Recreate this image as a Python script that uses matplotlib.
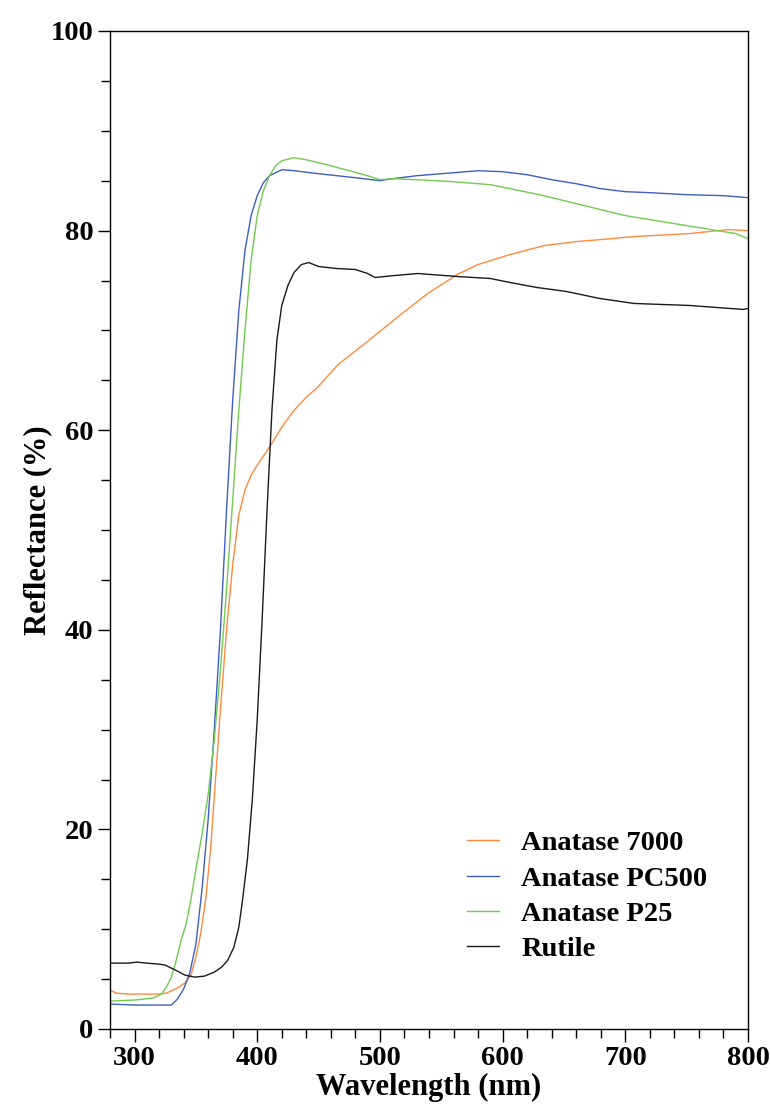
import matplotlib
matplotlib.use("Agg")
import matplotlib.pyplot as plt
from matplotlib.ticker import MultipleLocator

# diffuse reflectance spectra of the TiO2 powders
wl_7000 = [280, 285, 295, 320, 326, 335, 341, 346, 350, 354, 358, 362, 366, 370, 375,
           380, 385, 390, 395, 400, 410, 420, 430, 440, 450, 466, 490, 515, 539, 563,
           580, 606, 634, 660, 680, 707, 752, 784, 800]
r_7000 = [3.9, 3.6, 3.5, 3.5, 3.6, 4.1, 4.6, 5.4, 7.2, 9.6, 13.0, 18.0, 25.0, 32.0, 40.0,
          46.5, 51.5, 54.0, 55.5, 56.5, 58.3, 60.3, 62.0, 63.3, 64.4, 66.6, 68.9, 71.4, 73.7, 75.6,
          76.6, 77.6, 78.5, 78.9, 79.1, 79.4, 79.7, 80.1, 80.0]

wl_pc500 = [280, 300, 330, 335, 340, 345, 350, 355, 360, 365, 370, 375, 380, 385, 390,
            395, 400, 405, 410, 420, 430, 450, 480, 500, 510, 530, 560, 580, 600, 620,
            640, 660, 680, 700, 720, 750, 780, 800]
r_pc500 = [2.5, 2.4, 2.4, 3.0, 4.0, 5.6, 8.5, 14.0, 21.0, 30.0, 40.0, 52.0, 63.0, 72.0, 78.0,
           81.5, 83.5, 84.8, 85.5, 86.1, 86.0, 85.7, 85.3, 85.0, 85.2, 85.5, 85.8, 86.0, 85.9, 85.6,
           85.1, 84.7, 84.2, 83.9, 83.8, 83.6, 83.5, 83.3]

wl_p25 = [280, 300, 315, 322, 326, 330, 334, 338, 342, 346, 350, 355, 360, 365, 370,
          375, 380, 385, 390, 395, 400, 405, 410, 415, 420, 430, 440, 450, 460, 475,
          490, 500, 510, 530, 560, 590, 610, 630, 650, 670, 700, 730, 760, 780, 790, 800]
r_p25 = [2.8, 2.9, 3.1, 3.5, 4.2, 5.2, 6.9, 8.9, 10.5, 13.0, 16.0, 19.5, 23.5, 29.0, 36.0,
         44.0, 53.0, 62.0, 70.0, 77.0, 81.5, 84.0, 85.5, 86.5, 87.0, 87.3, 87.1, 86.8, 86.5, 86.0,
         85.5, 85.1, 85.2, 85.1, 84.9, 84.6, 84.1, 83.6, 83.0, 82.4, 81.5, 80.9, 80.3, 79.9, 79.7, 79.2]

wl_rutile = [280, 295, 302, 310, 320, 325, 330, 335, 341, 349, 357, 365, 371, 376, 381,
             385, 388, 392, 396, 400, 404, 408, 412, 416, 420, 425, 430, 436, 442, 450,
             465, 480, 490, 496, 512, 531, 563, 590, 606, 628, 652, 679, 707, 752, 796, 800]
r_rutile = [6.6, 6.6, 6.7, 6.6, 6.5, 6.4, 6.1, 5.8, 5.4, 5.2, 5.3, 5.7, 6.2, 6.9, 8.2,
            10.2, 12.9, 17.0, 23.0, 31.0, 41.0, 52.0, 62.0, 69.0, 72.5, 74.5, 75.8, 76.6, 76.8, 76.4,
            76.2, 76.1, 75.7, 75.3, 75.5, 75.7, 75.4, 75.2, 74.8, 74.3, 73.9, 73.2, 72.7, 72.5, 72.1, 72.2]

series = [
    ("Anatase 7000", wl_7000, r_7000, "#ff8a3d"),
    ("Anatase PC500", wl_pc500, r_pc500, "#3d5fc4"),
    ("Anatase P25", wl_p25, r_p25, "#6fcc4e"),
    ("Rutile", wl_rutile, r_rutile, "#1a1a1a"),
]

plt.rcParams["font.family"] = "Liberation Serif"
plt.rcParams["font.weight"] = "bold"

fig = plt.figure(figsize=(7.71, 11.05), dpi=100)
ax = fig.add_axes([110 / 771, 76 / 1105, 638 / 771, 998 / 1105])

for name, x, y, c in series:
    ax.plot(x, y, color=c, lw=1.0, label=name)

ax.set_xlim(280, 800)
ax.set_ylim(0, 100)
ax.xaxis.set_major_locator(MultipleLocator(100))
ax.xaxis.set_minor_locator(MultipleLocator(20))
ax.yaxis.set_major_locator(MultipleLocator(20))
ax.yaxis.set_minor_locator(MultipleLocator(5))

ax.tick_params(which="both", direction="out", width=1.0, top=False, right=False,
               labelsize=20.5, pad=3)
ax.tick_params(which="major", length=9)
ax.tick_params(which="minor", length=6.5)
for s in ax.spines.values():
    s.set_linewidth(1.0)

ax.set_xlabel("Wavelength (nm)", fontsize=22, fontweight="bold")
ax.set_ylabel("Reflectance (%)", fontsize=22, fontweight="bold")
ax.xaxis.set_label_coords(0.5, -0.044)
ax.yaxis.set_label_coords(-0.09, 0.5)

ax.legend(loc="upper left", bbox_to_anchor=(0.56, 0.199), frameon=False,
          fontsize=20.5, handlelength=1.12, handletextpad=0.77, labelspacing=0.33,
          borderpad=0, borderaxespad=0)

fig.savefig("out.png", dpi=100)
